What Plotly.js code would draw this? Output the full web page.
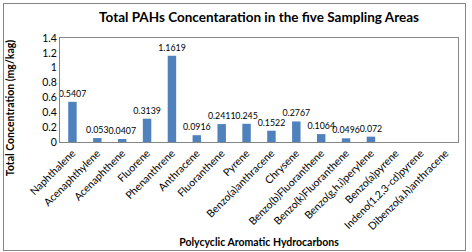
<!DOCTYPE html>
<html><head><meta charset="utf-8">
<script src="https://cdn.plot.ly/plotly-3.0.1.min.js"></script>
<style>html,body{margin:0;padding:0;background:#fff;}#wrap{position:relative;width:472px;height:252px;}#chart{width:472px;height:252px;}#frame{position:absolute;left:3px;top:3px;width:461px;height:246px;border:1px solid #868686;pointer-events:none;}</style>
</head><body>
<div id="wrap"><div id="chart"></div><div id="frame"></div></div>
<script>
const categories = ["Naphthalene","Acenaphthylene","Acenaphthene","Fluorene","Phenanthrene","Anthracene","Fluoranthene","Pyrene","Benzo(a)anthracene","Chrysene","Benzo(b)Fluoranthene","Benzo(k)Fluoranthene","Benzo(g,h,i)perylene","Benzo(a)pyrene","Indeno(1,2,3-cd)pyrene","Dibenzo(a,h)anthracene"];
const values = [0.5407,0.053,0.0407,0.3139,1.1619,0.0916,0.2411,0.245,0.1522,0.2767,0.1064,0.0496,0.072,0,0,0];
const labels = values.map(v => v > 0 ? String(v) : "");
const F = "Lato, 'Open Sans', sans-serif";
Plotly.newPlot('chart', [{
  type:'bar', x:categories, y:values, text:labels, textposition:'outside', constraintext:'none',
  textfont:{family:F,size:8.8,color:'#000'}, cliponaxis:false,
  marker:{color:'#4F81BD'}, hoverinfo:'none'
}], {
  width:472, height:252,
  margin:{l:60,r:14,t:38,b:110},
  paper_bgcolor:'#fff', plot_bgcolor:'#fff',
  bargap:0.66, showlegend:false, uniformtext:{mode:false},
  title:{text:'<b>Total PAHs Concentaration in the five Sampling Areas</b>', font:{family:F,size:13.5,color:'#000'}, x:0.5, xanchor:'center', y:0.93, yanchor:'middle', xref:'paper'},
  xaxis:{tickangle:-45, tickfont:{family:F,size:10.5,color:'#000'}, showline:true, linecolor:'#868686', mirror:true, ticks:'', showgrid:false, automargin:false,
    title:{text:'<b>Polycyclic Aromatic Hydrocarbons</b>', font:{family:F,size:10.5,color:'#000'}, standoff:0}},
  yaxis:{range:[0,1.4], dtick:0.2, tickfont:{family:F,size:10.5,color:'#000'}, showline:true, linecolor:'#868686', mirror:true, ticks:'', showgrid:false, zeroline:false, automargin:false,
    title:{text:'<b>Total Concentration (mg/kag)</b>', font:{family:F,size:10.5,color:'#000'}, standoff:0}}
}, {staticPlot:true}).then(gd => {
  const xt = gd.querySelector('.xtitle');
  const yt = gd.querySelector('.ytitle');
  if (xt) { xt.setAttribute('y', 246); }
  if (yt) { yt.setAttribute('x', 14); yt.setAttribute('y', 108); yt.setAttribute('transform', 'rotate(-90,14,108)'); }
});
</script>
</body></html>
